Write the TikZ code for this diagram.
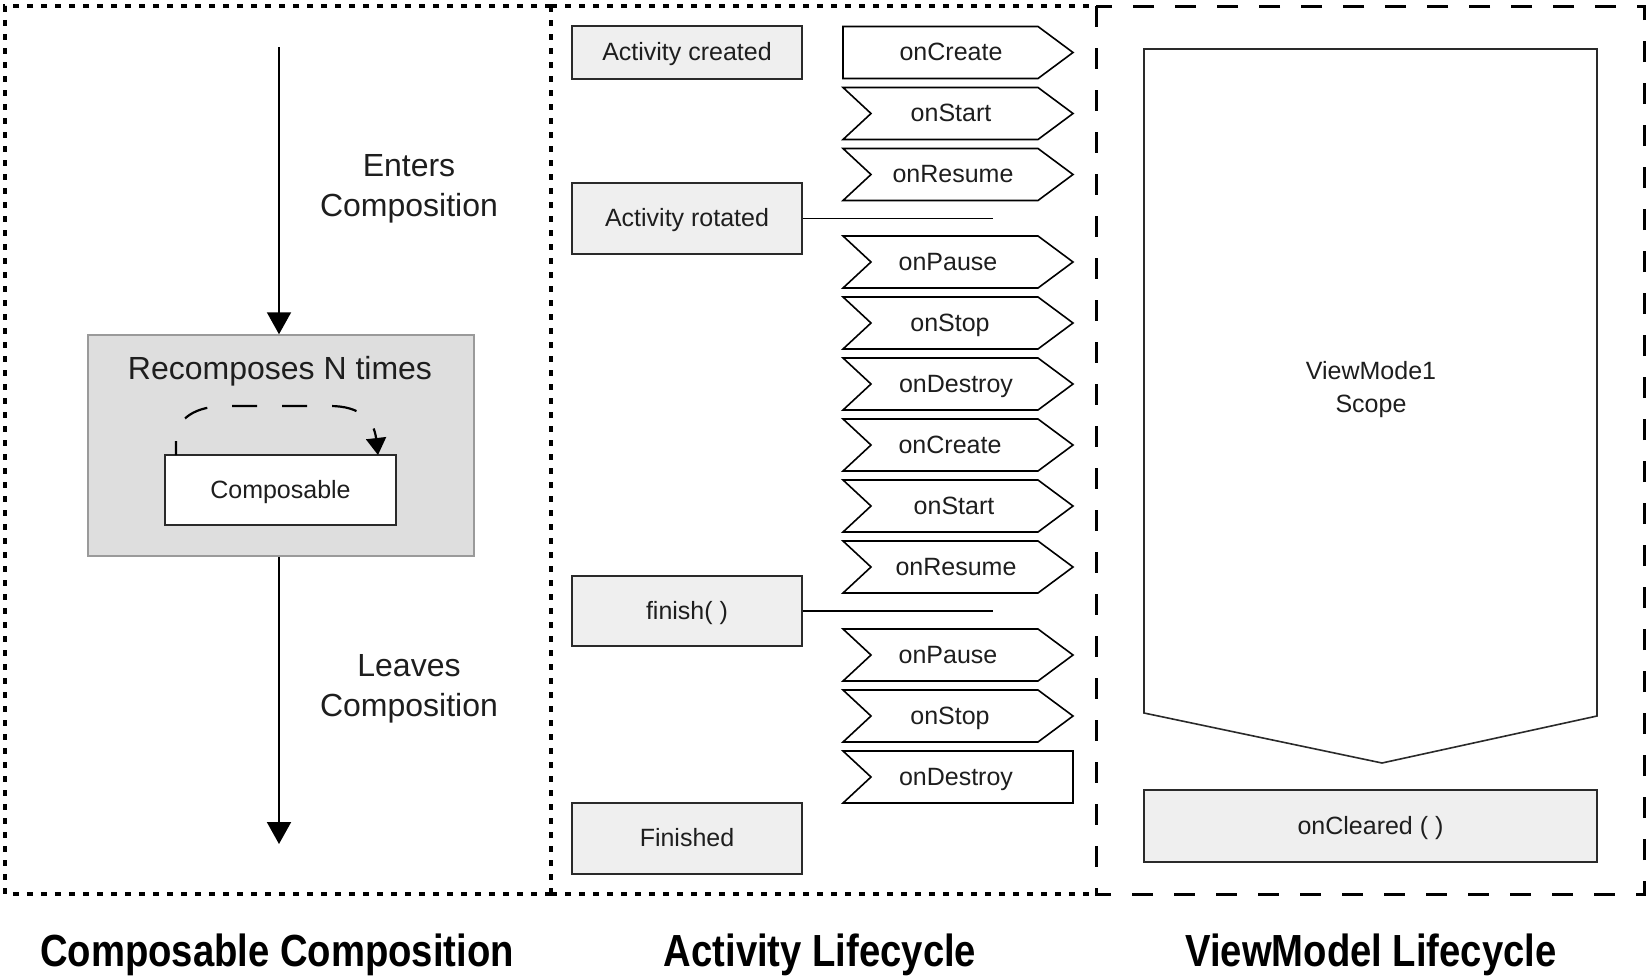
\documentclass[tikz,border=0pt]{standalone}
\usepackage{fontspec}
\setmainfont{Liberation Sans}
\newfontfamily\titlefont[FakeStretch=0.85]{Liberation Sans}
\usetikzlibrary{arrows.meta}
\definecolor{txt}{HTML}{1E1E1E}
\definecolor{lightfill}{HTML}{EFEFEF}
\definecolor{midfill}{HTML}{DEDEDE}
\definecolor{midedge}{HTML}{9A9A9A}
\definecolor{edge}{HTML}{2A2A2A}
\begin{document}
\begin{tikzpicture}[x=1pt,y=-1pt,
  dotborder/.style={line width=3.5pt, dash pattern=on 6pt off 8pt},
  dashborder/.style={line width=3pt, dash pattern=on 21pt off 21pt},
  lbl/.style={text=txt, font=\fontsize{25}{30}\selectfont, inner sep=0pt, text height=20pt, text depth=4pt},
  freelbl/.style={text=txt, inner sep=0pt, align=center},
  graybox/.style={draw=edge, fill=lightfill, line width=1.6pt, minimum width=230pt, inner sep=0pt, text=txt, font=\fontsize{25}{30}\selectfont, text height=20pt, text depth=4pt},
  chevshape/.style={draw=black, line width=1.6pt, fill=white, line join=miter},
  flowarrow/.style={line width=2pt, -{Triangle[width=24pt,length=22pt]}},
  loopline/.style={line width=2.2pt, dash pattern=on 25pt off 25pt, dash phase=11pt, -{Triangle[width=20pt,length=17pt]}},
  titletext/.style={font=\titlefont\bfseries\fontsize{45}{50}\selectfont, inner sep=0pt, text=black}
]
\useasboundingbox (0,0) rectangle (1650,977);

% panel borders
\draw[dotborder] (551,6) -- (5,6) -- (5,894) -- (551,894);
\draw[dotborder] (551,6) -- (551,894);
\draw[dotborder] (551,6) -- (1096,6);
\draw[dotborder] (551,894) -- (1096,894);
\draw[dashborder] (1096,6) rectangle (1644,894);

% ---------- Composable Composition ----------
\node[draw=midedge, fill=midfill, line width=1.5pt, minimum width=386pt, minimum height=221pt, inner sep=0pt] (big) at (281,445.5) {};
\node[freelbl, font=\fontsize{32}{40}\selectfont] (recomp) at (280,371) {Recomposes N times};
\node[draw=edge, fill=white, line width=1.8pt, minimum width=231pt, minimum height=70pt, inner sep=0pt, text=txt, font=\fontsize{25}{30}\selectfont, text height=20pt, text depth=4pt] (comp) at (280.5,490) {Composable};

\coordinate (enterstart) at (279,47);
\coordinate (leaveend) at (279,844);
\draw[flowarrow] (enterstart) -- (enterstart |- big.north);
\draw[flowarrow] (leaveend |- big.south) -- (leaveend);

\coordinate (loopstart) at (176,455);
\coordinate (loopend) at (378,455);
\draw[loopline] (loopstart) -- (176,440) .. controls (176,418) and (196,406) .. (226,406) -- (330,406) .. controls (360,406) and (374,420) .. (loopend);

\node[freelbl, font=\fontsize{32}{40}\selectfont] (enters) at (409,189) {Enters\\Composition};
\node[freelbl, font=\fontsize{32}{40}\selectfont] (leaves) at (409,689) {Leaves\\Composition};

% ---------- Activity Lifecycle ----------
\node[graybox, minimum height=53pt] (created) at (687,52.5) {Activity created};
\node[graybox, minimum height=71pt] (rot) at (687,218.5) {Activity rotated};
\node[graybox, minimum height=70pt] (fin) at (687,611) {finish( )};
\node[graybox, minimum height=71pt] (done) at (687,838.5) {Finished};

\coordinate (rotend) at (993,218.5);
\coordinate (finend) at (993,611);
\draw[line width=1.6pt, draw=black] (rot.east) -- (rotend);
\draw[line width=1.6pt, draw=black] (fin.east) -- (finend);

\foreach \c/\t/\tx/\k/\nm in {
  52.5/onCreate/951/0/ca, 113.5/onStart/951/1/cb, 174.5/onResume/953/1/cc,
  262/onPause/948/1/cd, 323/onStop/950/1/ce, 384/onDestroy/956/1/cf,
  445/onCreate/950/1/cg, 506/onStart/954/1/ch, 567/onResume/956/1/ci,
  655/onPause/948/1/cj, 716/onStop/950/1/ck, 777/onDestroy/956/2/cl}{
  \ifnum\k=0
    \draw[chevshape] (843,\c-26) -- (1038,\c-26) -- (1073,\c) -- (1038,\c+26) -- (843,\c+26) -- cycle;
  \fi
  \ifnum\k=1
    \draw[chevshape] (843,\c-26) -- (1038,\c-26) -- (1073,\c) -- (1038,\c+26) -- (843,\c+26) -- (871,\c) -- cycle;
  \fi
  \ifnum\k=2
    \draw[chevshape] (843,\c-26) -- (1073,\c-26) -- (1073,\c+26) -- (843,\c+26) -- (871,\c) -- cycle;
  \fi
  \node[lbl] (\nm) at (\tx,\c) {\t};
}

% ---------- ViewModel Lifecycle ----------
\draw[line width=1.6pt, draw=edge, fill=white] (1144,49) -- (1597,49) -- (1597,716) -- (1382,763) -- (1144,713) -- cycle;
\node[freelbl, font=\fontsize{25}{33}\selectfont] (scope) at (1371,390) {ViewMode1\\Scope};
\node[graybox, minimum width=453pt, minimum height=72pt] (clear) at (1370.5,826) {onCleared ( )};

% ---------- titles ----------
\node[titletext] (t1) at (277,955) {Composable Composition};
\node[titletext] (t2) at (820,955) {Activity Lifecycle};
\node[titletext] (t3) at (1371,955) {ViewModel Lifecycle};
\end{tikzpicture}
\end{document}
